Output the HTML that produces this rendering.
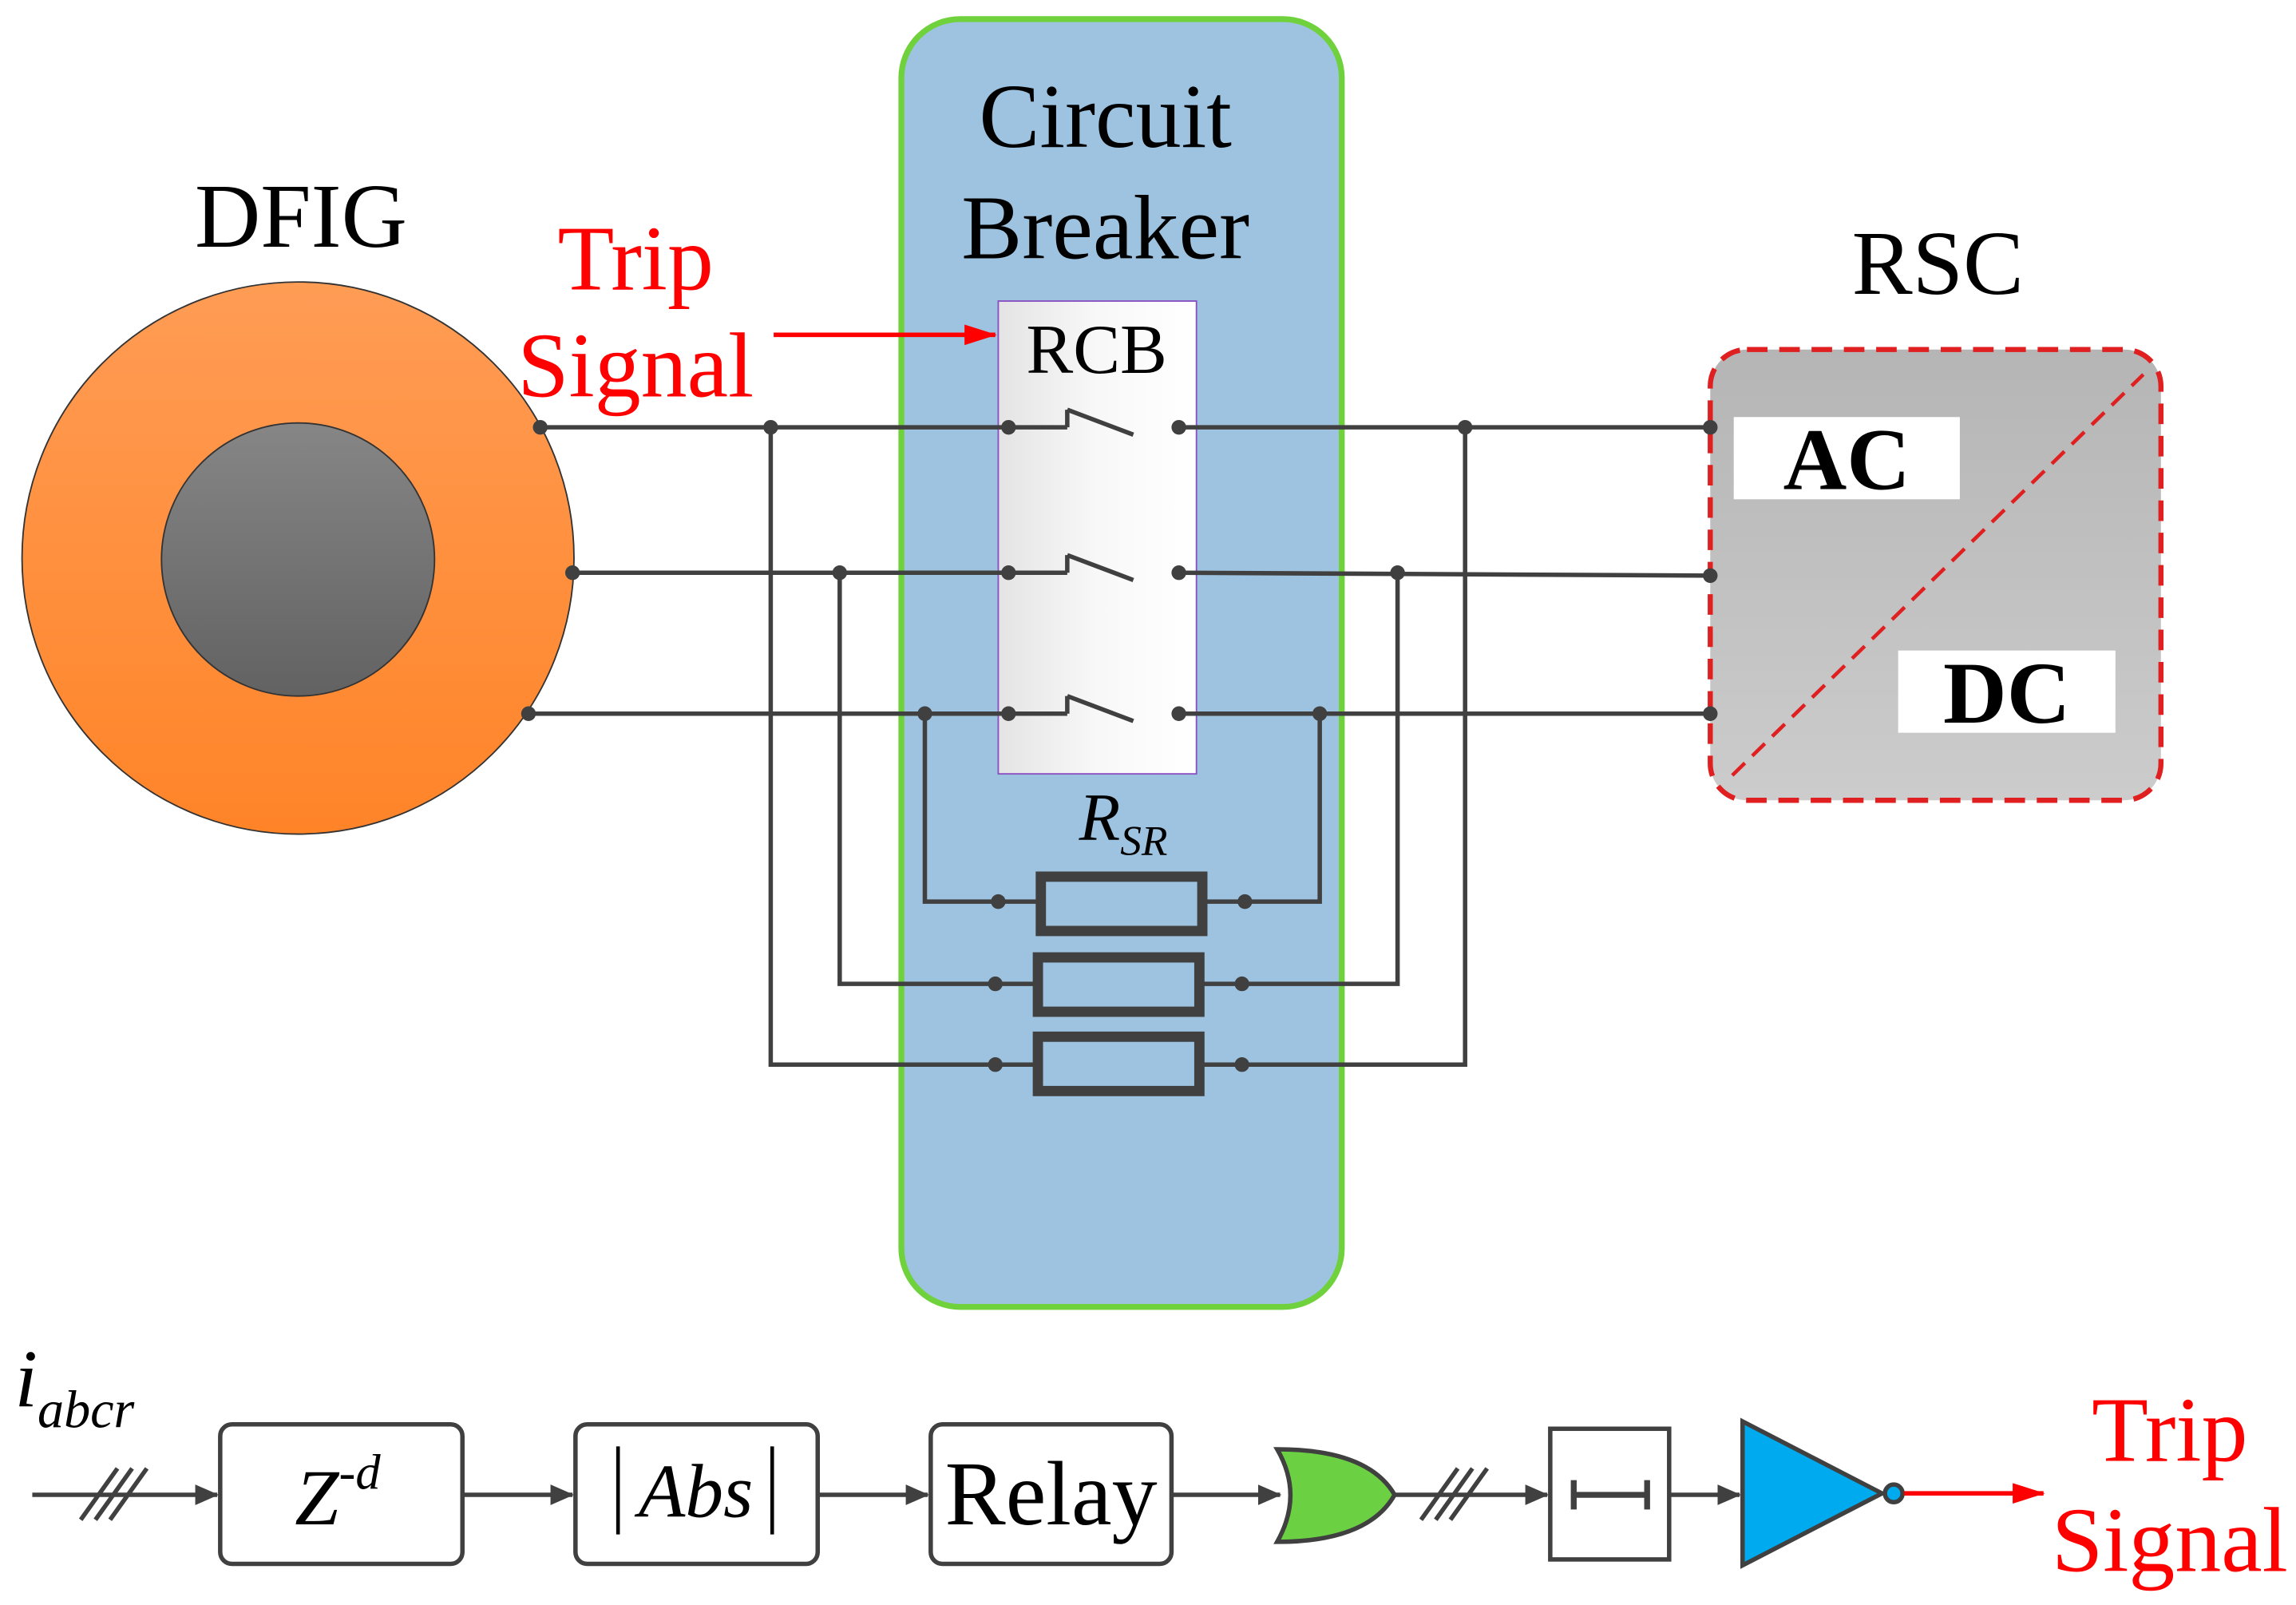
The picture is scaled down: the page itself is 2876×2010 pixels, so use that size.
<!DOCTYPE html>
<html><head><meta charset="utf-8"><style>html,body{margin:0;padding:0;background:#fff}svg{display:block}</style></head><body>
<svg width="2876" height="2010" viewBox="0 0 1564 1093" xmlns="http://www.w3.org/2000/svg" font-family="Liberation Serif, serif">
<defs>
<linearGradient id="og" x1="0" y1="0" x2="0" y2="1"><stop offset="0" stop-color="#ff9c55"/><stop offset="1" stop-color="#ff8428"/></linearGradient>
<linearGradient id="gg" x1="0" y1="0" x2="0" y2="1"><stop offset="0" stop-color="#868686"/><stop offset="1" stop-color="#626262"/></linearGradient>
<linearGradient id="rg" x1="0" y1="0" x2="1" y2="0"><stop offset="0" stop-color="#e4e4e4"/><stop offset="0.5" stop-color="#f8f8f8"/><stop offset="1" stop-color="#ffffff"/></linearGradient>
<linearGradient id="sg" x1="0" y1="0" x2="0" y2="1"><stop offset="0" stop-color="#b5b5b5"/><stop offset="1" stop-color="#cccccc"/></linearGradient>
<marker id="ar" markerWidth="16" markerHeight="14" refX="15" refY="7" orient="auto" markerUnits="userSpaceOnUse"><path d="M0,0 L16,7 L0,14 z" fill="#404040"/></marker>
<marker id="arr" markerWidth="22" markerHeight="14" refX="21" refY="7" orient="auto" markerUnits="userSpaceOnUse"><path d="M0,0 L22,7 L0,14 z" fill="#ff0000"/></marker>
</defs>
<rect width="1564" height="1093" fill="#fff"/>
<circle cx="203" cy="380" r="188" fill="url(#og)" stroke="#333" stroke-width="1"/>
<circle cx="203" cy="381" r="93" fill="url(#gg)" stroke="#333" stroke-width="1"/>
<text x="205" y="168" font-size="62" text-anchor="middle">DFIG</text>
<text x="433" y="197" font-size="63" text-anchor="middle" fill="#ff0000">Trip</text>
<text x="433" y="270" font-size="63" text-anchor="middle" fill="#ff0000">Signal</text>
<rect x="614" y="13" width="300" height="877" rx="40" fill="#9dc3e0" stroke="#6fd13c" stroke-width="4"/>
<text x="753" y="100" font-size="62" text-anchor="middle">Circuit</text>
<text x="753" y="176" font-size="62" text-anchor="middle">Breaker</text>
<rect x="680" y="205" width="135" height="322" fill="url(#rg)" stroke="#8a4fc0" stroke-width="1"/>
<text x="747" y="254" font-size="48" text-anchor="middle">RCB</text>
<line x1="527" y1="228" x2="678" y2="228" stroke="#ff0000" stroke-width="3" marker-end="url(#arr)"/>
<text x="1320" y="200" font-size="62" text-anchor="middle">RSC</text>
<rect x="1165" y="238" width="307" height="307" rx="25" fill="url(#sg)" stroke="#e02020" stroke-width="3.5" stroke-dasharray="14,8"/>
<line x1="1180" y1="528" x2="1460" y2="255" stroke="#e02020" stroke-width="2.5" stroke-dasharray="12,7"/>
<rect x="1181" y="284" width="154" height="56" fill="#fff"/>
<text x="1258" y="333" font-size="60" font-weight="bold" text-anchor="middle">AC</text>
<rect x="1293" y="443" width="148" height="56" fill="#fff"/>
<text x="1367" y="492" font-size="60" font-weight="bold" text-anchor="middle">DC</text>
<g stroke="#404040" stroke-width="3" fill="none">
<line x1="368" y1="291" x2="687" y2="291"/><line x1="803" y1="291" x2="1165" y2="291"/>
<line x1="390" y1="390" x2="687" y2="390"/><line x1="803" y1="390" x2="1165" y2="392"/>
<line x1="360" y1="486" x2="687" y2="486"/><line x1="803" y1="486" x2="1165" y2="486"/>
<path d="M687,291 H727 M727,279 V291 M727,279 L772,296"/>
<path d="M687,390 H727 M727,378 V390 M727,378 L772,395"/>
<path d="M687,486 H727 M727,474 V486 M727,474 L772,491"/>
<path d="M525,291 V725 H706"/><path d="M818,725 H998 V291"/>
<path d="M572,390 V670 H706"/><path d="M818,670 H952 V390"/>
<path d="M630,486 V614 H708"/><path d="M820,614 H899 V486"/>
</g>
<g fill="none" stroke="#404040" stroke-width="7">
<rect x="709" y="597" width="110" height="37"/>
<rect x="707" y="652" width="110" height="37"/>
<rect x="707" y="706" width="110" height="37"/>
</g>
<text x="735" y="572" font-size="46" font-style="italic">R<tspan font-size="29" dy="10">SR</tspan></text>
<g fill="#404040">
<circle cx="368" cy="291" r="5"/><circle cx="390" cy="390" r="5"/><circle cx="360" cy="486" r="5"/>
<circle cx="525" cy="291" r="5"/><circle cx="572" cy="390" r="5"/><circle cx="630" cy="486" r="5"/>
<circle cx="687" cy="291" r="5"/><circle cx="687" cy="390" r="5"/><circle cx="687" cy="486" r="5"/>
<circle cx="803" cy="291" r="5"/><circle cx="803" cy="390" r="5"/><circle cx="803" cy="486" r="5"/>
<circle cx="998" cy="291" r="5"/><circle cx="952" cy="390" r="5"/><circle cx="899" cy="486" r="5"/>
<circle cx="1165" cy="291" r="5"/><circle cx="1165" cy="392" r="5"/><circle cx="1165" cy="486" r="5"/>
<circle cx="680" cy="614" r="5"/><circle cx="848" cy="614" r="5"/>
<circle cx="678" cy="670" r="5"/><circle cx="846" cy="670" r="5"/>
<circle cx="678" cy="725" r="5"/><circle cx="846" cy="725" r="5"/>
</g>
<text x="10" y="958" font-size="56" font-style="italic">i<tspan font-size="36" dy="14">abcr</tspan></text>
<g stroke="#404040" stroke-width="3" fill="none">
<line x1="22" y1="1018" x2="148" y2="1018" marker-end="url(#ar)"/>
<path d="M55,1035 L80,1000 M65,1035 L90,1000 M75,1035 L100,1000"/>
<line x1="315" y1="1018" x2="390" y2="1018" marker-end="url(#ar)"/>
<line x1="557" y1="1018" x2="632" y2="1018" marker-end="url(#ar)"/>
<line x1="798" y1="1018" x2="872" y2="1018" marker-end="url(#ar)"/>
<line x1="948" y1="1018" x2="1054" y2="1018" marker-end="url(#ar)"/>
<path d="M968,1035 L993,1000 M978,1035 L1003,1000 M988,1035 L1013,1000"/>
<line x1="1137" y1="1018" x2="1185" y2="1018" marker-end="url(#ar)"/>
<rect x="150" y="970" width="165" height="95" rx="8"/>
<rect x="392" y="970" width="165" height="95" rx="8"/>
<rect x="634" y="970" width="164" height="95" rx="8"/>
<rect x="1056" y="973" width="81" height="89"/>
<path d="M1072,1018 H1122 M1072,1008 V1028 M1122,1008 V1028" stroke-width="4"/>
</g>
<text x="230" y="1038" font-size="54" font-style="italic" text-anchor="middle">Z<tspan font-size="34" dy="-24">-d</tspan></text>
<text x="474" y="1033" font-size="52" font-style="italic" text-anchor="middle">Abs</text>
<line x1="421" y1="985" x2="421" y2="1045" stroke="#000" stroke-width="2.5"/><line x1="526" y1="985" x2="526" y2="1045" stroke="#000" stroke-width="2.5"/>
<text x="716" y="1038" font-size="62" text-anchor="middle">Relay</text>
<path d="M870,987 Q932,987 950,1018 Q932,1050 870,1050 Q888,1018 870,987 z" fill="#6cd043" stroke="#404040" stroke-width="3"/>
<path d="M1187,968 L1282,1017 L1187,1066 z" fill="#00aaee" stroke="#404040" stroke-width="3"/>
<circle cx="1290" cy="1017" r="6" fill="#00aaee" stroke="#404040" stroke-width="3"/>
<line x1="1297" y1="1017" x2="1392" y2="1017" stroke="#ff0000" stroke-width="3" marker-end="url(#arr)"/>
<text x="1478" y="995" font-size="63" text-anchor="middle" fill="#ff0000">Trip</text>
<text x="1478" y="1070" font-size="63" text-anchor="middle" fill="#ff0000">Signal</text>
</svg>
</body></html>
